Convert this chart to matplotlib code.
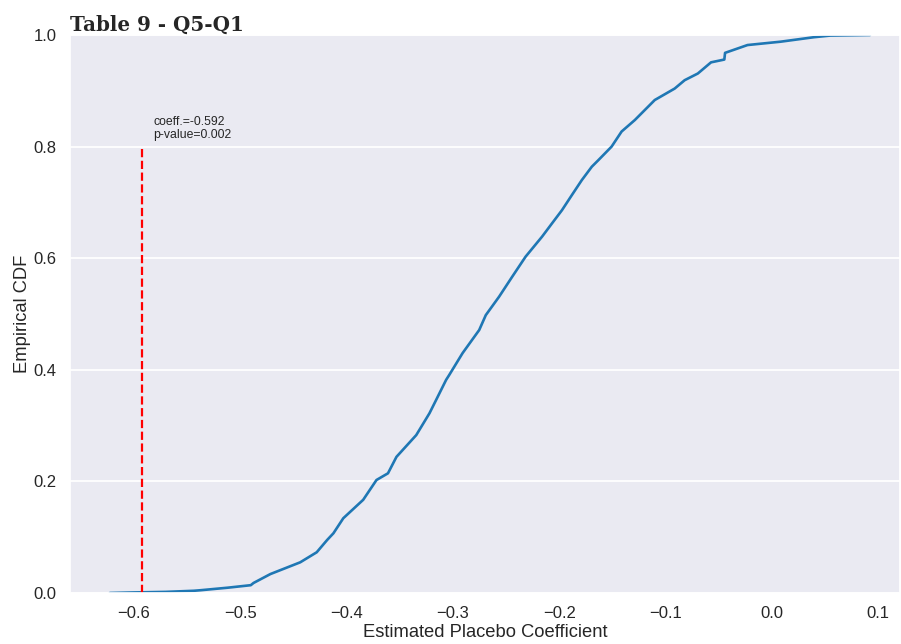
import matplotlib
matplotlib.use("Agg")
import matplotlib.pyplot as plt
import seaborn as sns

# Quantiles
coef_values = [-0.6225, -0.600, -0.570, -0.5435, -0.537, -0.5117, -0.490, -0.4874, -0.4715,
               -0.4435, -0.428, -0.4182, -0.4123, -0.403, -0.3843, -0.3718, -0.361, -0.353,
               -0.3344, -0.322, -0.3157, -0.3063, -0.3033, -0.2908, -0.2752, -0.269, -0.2565,
               -0.2441, -0.2316, -0.2161, -0.2067, -0.1974, -0.188, -0.1787, -0.1693, -0.163,
               -0.1507, -0.1413, -0.1288, -0.1101, -0.0914, -0.082, -0.0696, -0.0572, -0.0447,
               -0.044, -0.0229, 0.0082, 0.0394, 0.055, 0.0923]
cdf_values = [0.0, 0.001, 0.002, 0.004, 0.005, 0.0095, 0.014, 0.018, 0.034,
              0.055, 0.073, 0.095, 0.107, 0.134, 0.167, 0.2025, 0.2145, 0.244,
              0.283, 0.322, 0.346, 0.382, 0.391, 0.430, 0.4713, 0.498, 0.531,
              0.567, 0.6027, 0.6386, 0.6625, 0.686, 0.7133, 0.740, 0.764, 0.776,
              0.800, 0.827, 0.8477, 0.8835, 0.904, 0.919, 0.931, 0.951, 0.956,
              0.968, 0.982, 0.988, 0.996, 0.999, 1.0]

actual_coef = -0.592
p_value = 0.002
title = "Table 9 - Q5-Q1"
xticks = [-0.6, -0.5, -0.4, -0.3, -0.2, -0.1, 0.0, 0.1]
yticks = [0.0, 0.2, 0.4, 0.6, 0.8, 1.0]

sns.set_theme(style="darkgrid")
plt.rcParams['font.family'] = ['Liberation Sans', 'DejaVu Sans']

fig = plt.figure(figsize=(9.01, 6.44), dpi=100)
ax = fig.add_axes([70/901, (644-593)/644, (900-70)/901, (593-35)/644])

ax.plot(coef_values, cdf_values, color='#1f77b4', lw=1.9)
ax.vlines(actual_coef, 0, 0.8, colors='red', linestyles='--', lw=1.6)
ax.text(-0.5815, 0.81, f"coeff.={actual_coef}\np-value={p_value}", fontsize=8.8,
        ha='left', va='bottom', color='#262626', linespacing=1.1)

ax.set_xlim(-0.660, 0.1205)
ax.set_ylim(0, 1)
ax.set_xticks(xticks)
ax.set_xticklabels(["\u2212%.1f" % abs(v) if v < 0 else "%.1f" % v for v in xticks])
ax.set_yticks(yticks)
ax.set_yticklabels(["%.1f" % v for v in yticks])
ax.tick_params(labelsize=12)
ax.grid(axis='y', color='white', lw=1.3)
ax.grid(axis='x', visible=False)
ax.set_xlabel("Estimated Placebo Coefficient", fontsize=13.2, labelpad=2)
ax.set_ylabel("Empirical CDF", fontsize=13.2, labelpad=2)
ax.set_title(title, loc='left', fontsize=14.3, fontweight='bold', family='DejaVu Serif', pad=3)

fig.savefig("out.png", dpi=100)
